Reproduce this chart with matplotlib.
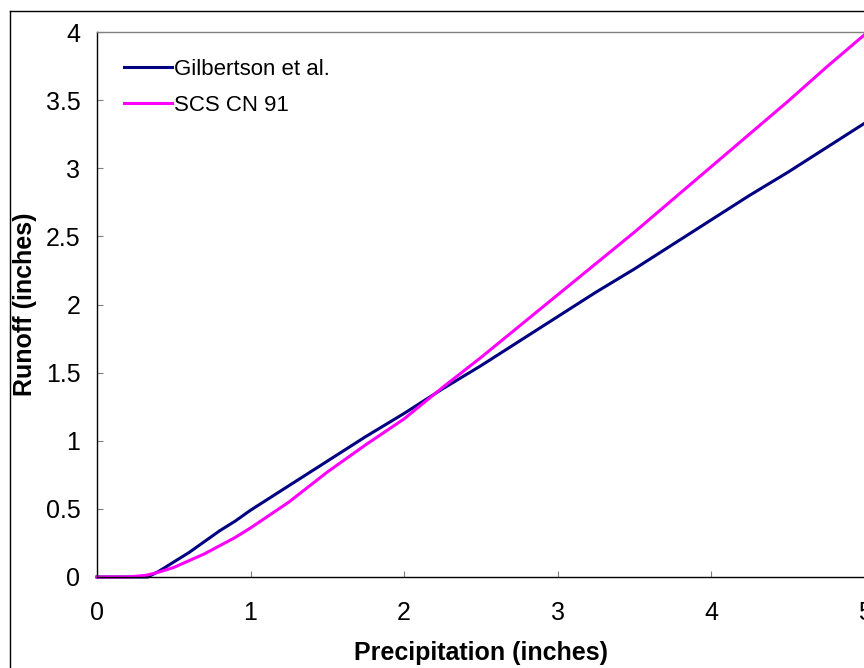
import matplotlib.pyplot as plt
from matplotlib.lines import Line2D

plt.rcParams['font.family'] = ['Liberation Sans', 'DejaVu Sans']

# precipitation (inches) and runoff (inches) for each method
precip = [0, 0.2, 0.3, 0.33, 0.4, 0.5, 0.6, 0.7, 0.8, 0.9, 1.0, 1.25, 1.5, 1.75,
          2.0, 2.25, 2.5, 2.75, 3.0, 3.25, 3.5, 3.75, 4.0, 4.25, 4.5, 4.75, 5.0]
gilbertson = [0, 0, 0, 0, 0.04, 0.11, 0.18, 0.26, 0.34, 0.41, 0.49, 0.67, 0.85, 1.03,
              1.20, 1.38, 1.55, 1.73, 1.91, 2.09, 2.26, 2.44, 2.62, 2.80, 2.97, 3.15, 3.33]
scs_cn91 = [0, 0, 0.01, 0.015, 0.035, 0.07, 0.12, 0.17, 0.23, 0.29, 0.36, 0.55, 0.77, 0.97,
            1.16, 1.39, 1.61, 1.84, 2.07, 2.30, 2.53, 2.77, 3.01, 3.25, 3.49, 3.74, 3.98]

x_ticks = [0, 1, 2, 3, 4, 5]
y_ticks = [0, 0.5, 1, 1.5, 2, 2.5, 3, 3.5, 4]

W, H = 864, 668
fig = plt.figure(figsize=(W / 100, H / 100), dpi=100)
ax = fig.add_axes([97 / W, (H - 577) / H, (864.5 - 97) / W, (577 - 32) / H])

ax.plot(precip, gilbertson, color='#000080', lw=2.2, label='Gilbertson et al.', clip_on=False)
ax.plot(precip, scs_cn91, color='#FF00FF', lw=2.2, label='SCS CN 91', clip_on=False)

ax.set_xlim(0, 5)
ax.set_ylim(0, 4)
ax.set_xticks(x_ticks)
ax.set_yticks(y_ticks)
ax.set_xticklabels(['%g' % v for v in x_ticks])
ax.set_yticklabels(['%g' % v for v in y_ticks])
ax.tick_params(direction='in', length=4.5, width=0.8, color='#808080', labelsize=18)
ax.tick_params(axis='x', pad=17)
ax.tick_params(axis='y', pad=12)

for s in ['left', 'bottom']:
    ax.spines[s].set_color('black')
    ax.spines[s].set_linewidth(1.0)
ax.spines['top'].set_color('#808080')
ax.spines['top'].set_linewidth(1.0)
ax.spines['right'].set_visible(False)

ax.set_xlabel('Precipitation (inches)', fontsize=18, fontweight='bold', labelpad=12)
ax.set_ylabel('Runoff (inches)', fontsize=18, fontweight='bold')
ax.yaxis.set_label_coords(-0.078, 0.5)

leg = ax.legend(loc='upper left', bbox_to_anchor=(0.009, 0.987), frameon=False,
                fontsize=16, handlelength=2.15, handletextpad=0.1, labelspacing=0.67)

# outer chart border
fig.add_artist(Line2D([10 / W, 10 / W], [0, 1 - 11 / H], color='black', lw=1.0))
fig.add_artist(Line2D([10 / W, 1], [1 - 11 / H, 1 - 11 / H], color='black', lw=1.0))

fig.savefig('out.png', dpi=100)
